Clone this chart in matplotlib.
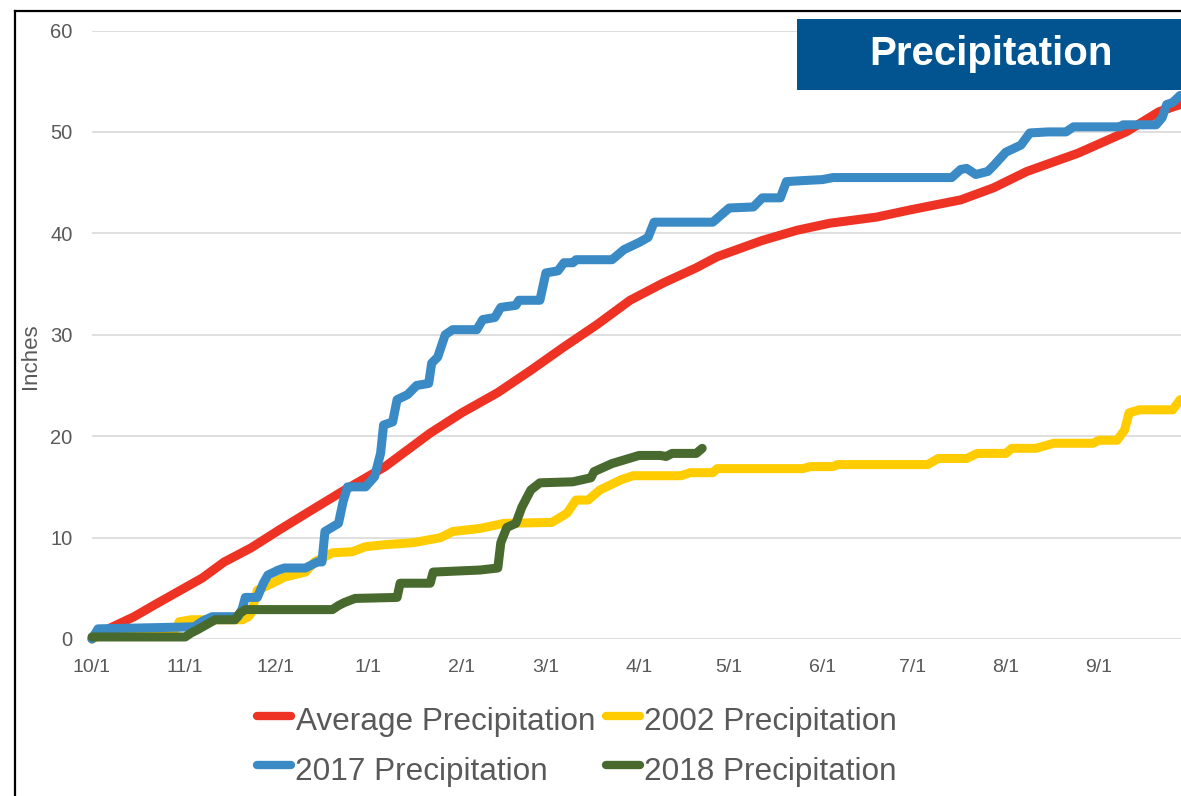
import matplotlib
matplotlib.use("Agg")
import matplotlib.pyplot as plt
from matplotlib.lines import Line2D
from matplotlib.patches import Rectangle

plt.rcParams['font.family'] = ['Liberation Sans', 'DejaVu Sans']

# ---- data (x = days since 10/1 of the water year) ----
tick_days = [0, 31, 61, 92, 123, 151, 182, 212, 243, 273, 304, 335]
tick_labels = ['10/1', '11/1', '12/1', '1/1', '2/1', '3/1', '4/1', '5/1', '6/1', '7/1', '8/1', '9/1']
y_ticks = [0, 10, 20, 30, 40, 50, 60]

avg_days = [0, 4, 9, 14, 21, 27.6, 36.6, 44, 53, 62, 73, 83, 97.5, 112.5, 123, 135, 146, 157,
            168, 179, 190, 201, 208, 223, 234.5, 245.5, 261, 272, 289, 300, 311, 328, 344, 355, 362]
avg_vals = [0, 0.8, 1.5, 2.2, 3.4, 4.5, 6.0, 7.6, 9.0, 10.7, 12.7, 14.5, 17.0, 20.3, 22.3, 24.3, 26.5, 28.8,
            31.0, 33.4, 35.1, 36.6, 37.7, 39.3, 40.3, 41.0, 41.6, 42.3, 43.3, 44.5, 46.1, 47.9, 50.0, 52.0, 52.7]

y2002_days = [0, 3, 10, 19, 28, 29, 33, 50, 52, 53, 55, 60, 64, 71, 74, 80, 86.5, 91, 97.5, 107,
              116, 120, 129, 137, 153, 158, 161, 165, 169, 176, 180, 196, 199, 206.5, 208, 236.5,
              239, 246.5, 248, 278, 281.5, 291, 294.5, 304, 306, 314, 320, 333, 335, 341, 343.5,
              345, 348.5, 359.5, 362]
y2002_vals = [0, 0.4, 0.9, 0.9, 1.0, 1.7, 1.9, 1.9, 2.2, 2.6, 4.8, 5.5, 6.1, 6.6, 7.6, 8.5, 8.6, 9.1, 9.3, 9.5,
              10.0, 10.6, 10.9, 11.4, 11.5, 12.4, 13.7, 13.7, 14.7, 15.7, 16.1, 16.1, 16.4, 16.4, 16.8, 16.8,
              17.0, 17.0, 17.2, 17.2, 17.8, 17.8, 18.3, 18.3, 18.8, 18.8, 19.3, 19.3, 19.6, 19.6, 20.6,
              22.3, 22.6, 22.6, 23.6]

y2017_days = [0, 2, 34, 37, 40, 48.6, 50, 51, 55, 57, 58.5, 62, 64, 71, 75, 76.5, 77.5, 82, 83.5, 85,
              91, 94, 96, 97, 100, 101.5, 105, 108, 112, 113, 115, 117.5, 120, 128, 130, 134, 136,
              141, 142, 149, 151, 155, 157, 160, 161, 173, 177, 182, 185, 187, 206.5, 212, 220, 223,
              229, 231, 236.5, 243, 246.5, 286, 289, 291, 294, 298, 300, 304, 309, 312, 318, 324,
              326.5, 342, 343, 354, 356, 357.5, 359.5, 362]
y2017_vals = [0, 1.0, 1.2, 1.8, 2.2, 2.2, 3.0, 4.1, 4.1, 5.5, 6.3, 6.8, 7.0, 7.0, 7.6, 7.6, 10.6, 11.4, 13.5, 15.0,
              15.0, 16.0, 18.3, 21.1, 21.4, 23.6, 24.1, 25.0, 25.2, 27.2, 27.8, 30.0, 30.5, 30.5, 31.5, 31.7, 32.7,
              32.9, 33.4, 33.4, 36.1, 36.3, 37.1, 37.1, 37.4, 37.4, 38.4, 39.1, 39.6, 41.1, 41.1, 42.5, 42.6, 43.5,
              43.5, 45.1, 45.2, 45.3, 45.5, 45.5, 46.3, 46.4, 45.8, 46.1, 46.7, 48.0, 48.7, 49.9, 50.0, 50.0,
              50.5, 50.5, 50.7, 50.7, 51.4, 52.7, 52.9, 53.6]

y2018_days = [0, 31, 33, 35, 38, 41, 47.6, 49, 51, 80, 82, 84, 87.5, 101.5, 102.5, 112.5, 113.5, 129,
              135, 136, 138, 141, 143, 146, 149, 160, 166, 167, 173, 182, 189, 191, 193, 201, 203]
y2018_vals = [0.2, 0.2, 0.6, 0.9, 1.4, 1.9, 1.9, 2.5, 2.9, 2.9, 3.3, 3.6, 4.0, 4.1, 5.5, 5.5, 6.6, 6.8,
              7.0, 9.5, 11.0, 11.4, 13.0, 14.7, 15.4, 15.5, 15.9, 16.5, 17.3, 18.1, 18.1, 18.0, 18.3, 18.3, 18.8]

series_names = ['Average Precipitation', '2002 Precipitation', '2017 Precipitation', '2018 Precipitation']
series_colors = ['#EE3224', '#FFCC00', '#3A8AC5', '#486A2E']
series_x = [avg_days, y2002_days, y2017_days, y2018_days]
series_y = [avg_vals, y2002_vals, y2017_vals, y2018_vals]

# ---- figure ----
W, H = 1181, 796
fig = plt.figure(figsize=(W / 100, H / 100), dpi=100)

def fx(px):
    return px / W

def fy(py):
    return 1 - py / H

ax_left, ax_right = 92, 92 + 365 * 3.006
ax_top, ax_bot = 30.5, 639
ax = fig.add_axes([fx(ax_left), fy(ax_bot), fx(ax_right - ax_left), (ax_bot - ax_top) / H])
ax.set_xlim(0, 365)
ax.set_ylim(0, 60)

for i, (xs, ys) in enumerate(zip(series_x, series_y)):
    ax.plot(xs, ys, color=series_colors[i], lw=6.5, solid_capstyle='round',
            solid_joinstyle='round', zorder=3 + i, clip_on=False)

ax.set_yticks(y_ticks)
ax.set_xticks(tick_days)
ax.set_xticklabels(tick_labels)
ax.grid(axis='y', color='#D9D9D9', lw=1.2, zorder=0)
ax.set_axisbelow(True)
for s in ax.spines.values():
    s.set_visible(False)
ax.tick_params(axis='x', length=0, pad=14.5, labelsize=14, labelcolor='#595959')
ax.tick_params(axis='y', length=0, pad=14, labelsize=14.5, labelcolor='#595959')

fig.text(fx(30), fy(356), 'Inches', rotation=90, ha='center', va='center',
         fontsize=16, color='#595959')

# title box
fig.patches.append(Rectangle((fx(797), fy(90)), fx(400), (90 - 18.5) / H,
                             transform=fig.transFigure, facecolor='#01548F',
                             edgecolor='none', zorder=10))
fig.text(fx(990.5), fy(65), 'Precipitation', ha='center', va='baseline',
         fontsize=29, fontweight='bold', color='white', zorder=11)

# border of the slide
fig.add_artist(Line2D([fx(15), fx(15)], [fy(10.5), 0], transform=fig.transFigure,
                      color='black', lw=1.6))
fig.add_artist(Line2D([fx(15), 1], [fy(10.8), fy(10.8)], transform=fig.transFigure,
                      color='black', lw=1.6))

# legend (two columns, row-major)
leg_pos = [(257, 291, 296, 716, 730), (606, 640, 644, 716, 730),
           (257, 291, 295, 765, 780), (606, 640, 644, 765, 780)]
for i, (x0, x1, tx, ly, by) in enumerate(leg_pos):
    fig.add_artist(Line2D([fx(x0), fx(x1)], [fy(ly), fy(ly)], transform=fig.transFigure,
                          color=series_colors[i], lw=6, solid_capstyle='round'))
    fig.text(fx(tx), fy(by), series_names[i], ha='left', va='baseline',
             fontsize=22.7, color='#595959')

fig.savefig('out.png', dpi=100)
